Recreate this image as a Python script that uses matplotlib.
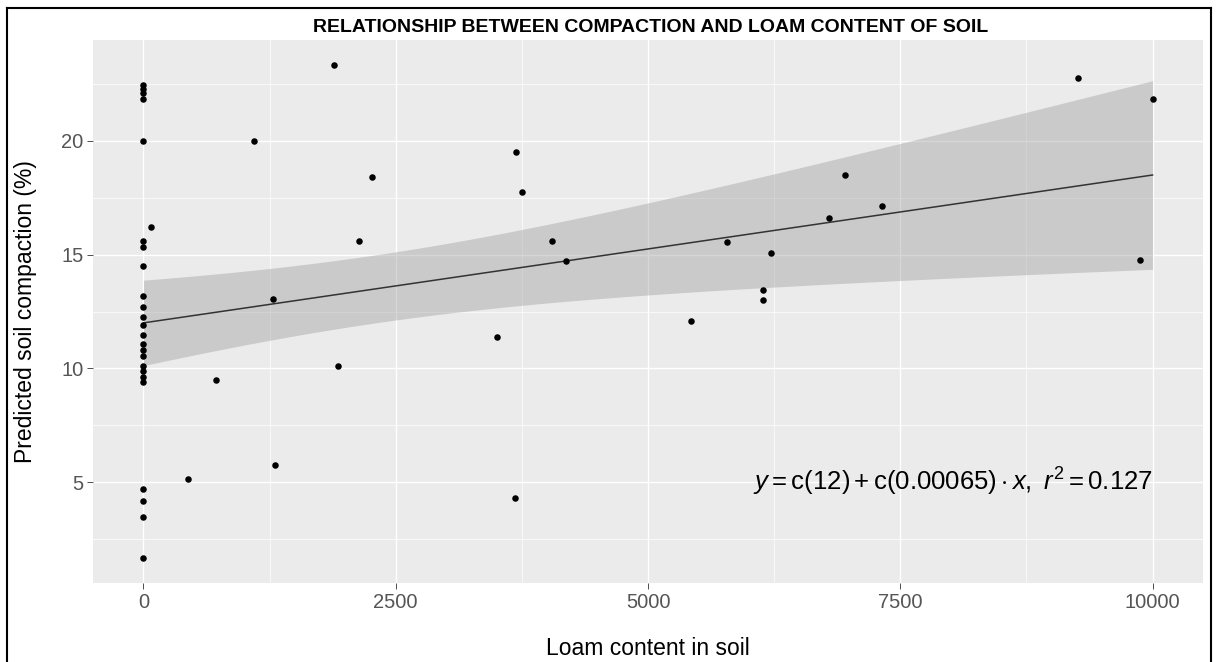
import numpy as np
import matplotlib
matplotlib.use('Agg')
import matplotlib.pyplot as plt
from matplotlib.lines import Line2D

plt.rcParams['font.family'] = ['Liberation Sans', 'DejaVu Sans']
plt.rcParams['mathtext.fontset'] = 'custom'
plt.rcParams['mathtext.rm'] = 'Liberation Sans'
plt.rcParams['mathtext.it'] = 'Liberation Sans:italic'

# samples with no loam at all
zero_loam_compaction = [22.45, 22.3, 22.1, 21.85, 20.0, 15.6, 15.35, 14.5, 13.2, 12.7,
                        12.25, 11.9, 11.45, 11.05, 10.8, 10.55, 10.1, 9.9, 9.6, 9.4,
                        4.7, 4.15, 3.45, 1.65]

# samples with some loam
loam_content = [70, 440, 720, 1100, 1280, 1300, 1890, 1930, 2140, 2260,
                3500, 3680, 3690, 3750, 4050, 4190, 5430, 5780, 6140, 6140,
                6220, 6790, 6950, 7320, 9260, 9880, 10000]
compaction = [16.2, 5.15, 9.5, 20.0, 13.05, 5.75, 23.35, 10.1, 15.6, 18.4,
              11.4, 4.3, 19.5, 17.75, 15.6, 14.7, 12.1, 15.55, 13.45, 13.0,
              15.05, 16.6, 18.5, 17.15, 22.75, 14.75, 21.85]

# fitted equation as printed on the plot
eq_intercept = 12
eq_slope = 0.00065
eq_r2 = 0.127

x = np.array([0] * len(zero_loam_compaction) + loam_content, dtype=float)
y = np.array(zero_loam_compaction + compaction, dtype=float)

# regression line from the equation, 95% confidence band from the residuals
n = len(x)
resid = y - (eq_intercept + eq_slope * x)
s = np.sqrt(np.sum(resid ** 2) / (n - 2))
sxx = np.sum((x - x.mean()) ** 2)
t95 = 2.01
xg = np.linspace(x.min(), x.max(), 100)
yg = eq_intercept + eq_slope * xg
half = t95 * s * np.sqrt(1.0 / n + (xg - x.mean()) ** 2 / sxx)

fig = plt.figure(figsize=(12.16, 6.62), dpi=100)
ax = fig.add_axes([0.0765, 0.1193, 0.9128, 0.8203])
ax.set_facecolor('#EBEBEB')

ax.fill_between(xg, yg - half, yg + half, color='#999999', alpha=0.4, lw=0, zorder=2)
ax.plot(xg, yg, color='#333333', lw=1.1, zorder=3)
ax.scatter(x, y, s=22, color='black', zorder=4, linewidths=0)

xr = x.max() - x.min()
yr = y.max() - y.min()
ax.set_xlim(x.min() - 0.05 * xr, x.max() + 0.05 * xr)
ax.set_ylim(y.min() - 0.05 * yr, y.max() + 0.05 * yr)

ax.set_xticks([0, 2500, 5000, 7500, 10000])
ax.set_xticks([1250, 3750, 6250, 8750], minor=True)
ax.set_yticks([5, 10, 15, 20])
ax.set_yticks([2.5, 7.5, 12.5, 17.5, 22.5], minor=True)
ax.grid(which='major', color='white', lw=1.0)
ax.grid(which='minor', color='white', lw=0.5)
ax.set_axisbelow(True)
ax.tick_params(which='major', length=4, width=0.6, color='#333333',
               labelcolor='#555555', labelsize=14.5, pad=3)
ax.tick_params(which='minor', length=0)
for sp in ax.spines.values():
    sp.set_visible(False)

ax.set_xlabel('Loam content in soil', fontsize=16.5, color='black')
ax.xaxis.set_label_coords(0.5, -0.12)
ax.xaxis.label.set_va('center')
ax.set_ylabel('Predicted soil compaction (%)', fontsize=16.5, color='black')
ax.yaxis.set_label_coords(-0.061, 0.5)
ax.yaxis.label.set_va('center')

fig.text(0.535, 0.959, 'RELATIONSHIP BETWEEN COMPACTION AND LOAM CONTENT OF SOIL',
         ha='center', va='center', fontsize=14, fontweight='bold')

label = (r'$y = \mathrm{c(%g)} + \mathrm{c(%g)} \cdot x,\ r^2 = %.3f$'
         % (eq_intercept, eq_slope, eq_r2))
ax.text(8020, 5.0, label, ha='center', va='center', fontsize=18.5, color='black')

# frame around the figure
for xs, ys in [([0.0058, 0.0058], [0.0, 0.988]),
               ([0.0058, 0.9959], [0.988, 0.988]),
               ([0.9959, 0.9959], [0.0, 0.988])]:
    fig.add_artist(Line2D(xs, ys, transform=fig.transFigure, color='black', lw=1.5))

fig.savefig('out.png', dpi=100)
